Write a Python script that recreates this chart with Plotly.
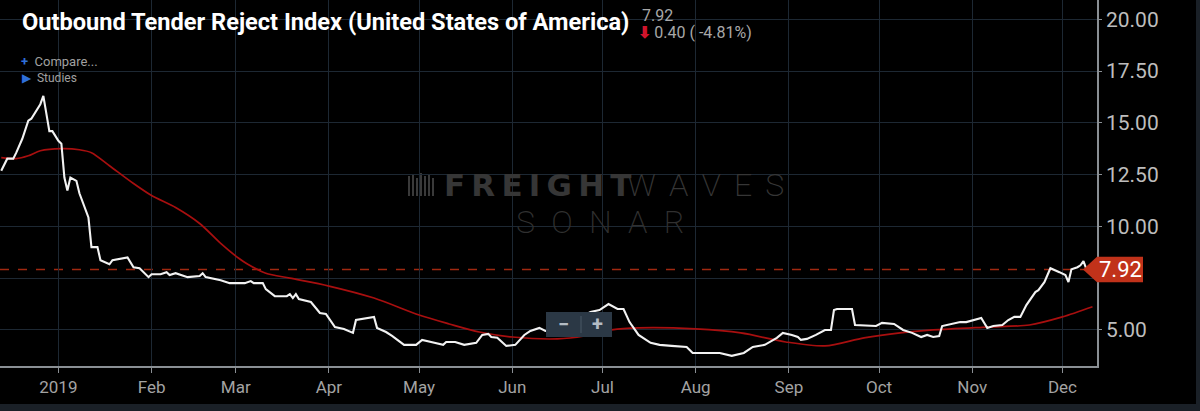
import plotly.graph_objects as go

# Outbound tender reject index, daily (%)
otri_dates = [
    "2018-12-13", "2018-12-15", "2018-12-17", "2018-12-18", "2018-12-20", "2018-12-22",
    "2018-12-23", "2018-12-25", "2018-12-26", "2018-12-27", "2018-12-28", "2018-12-29",
    "2018-12-30", "2019-01-01", "2019-01-02", "2019-01-03", "2019-01-04", "2019-01-05",
    "2019-01-07", "2019-01-08", "2019-01-11", "2019-01-12", "2019-01-14", "2019-01-15",
    "2019-01-18", "2019-01-19", "2019-01-24", "2019-01-26", "2019-01-28", "2019-01-31",
    "2019-02-01", "2019-02-04", "2019-02-06", "2019-02-07", "2019-02-09", "2019-02-13",
    "2019-02-17", "2019-02-18", "2019-02-19", "2019-02-24", "2019-02-27", "2019-03-04",
    "2019-03-06", "2019-03-07", "2019-03-10", "2019-03-11", "2019-03-14", "2019-03-18",
    "2019-03-19", "2019-03-20", "2019-03-21", "2019-03-22", "2019-03-26", "2019-03-28",
    "2019-03-29", "2019-03-31", "2019-04-03", "2019-04-06", "2019-04-09", "2019-04-10",
    "2019-04-16", "2019-04-17", "2019-04-20", "2019-04-22", "2019-04-26", "2019-04-30",
    "2019-05-02", "2019-05-05", "2019-05-09", "2019-05-10", "2019-05-13", "2019-05-16",
    "2019-05-20", "2019-05-22", "2019-05-24", "2019-05-25", "2019-05-27", "2019-05-30",
    "2019-06-02", "2019-06-05", "2019-06-07", "2019-06-10", "2019-06-12", "2019-06-16",
    "2019-06-21", "2019-06-25", "2019-06-27", "2019-06-30", "2019-07-03", "2019-07-06",
    "2019-07-08", "2019-07-10", "2019-07-13", "2019-07-17", "2019-07-20", "2019-07-24",
    "2019-07-29", "2019-07-31", "2019-08-04", "2019-08-09", "2019-08-13", "2019-08-17",
    "2019-08-20", "2019-08-24", "2019-08-28", "2019-08-30", "2019-09-02", "2019-09-04",
    "2019-09-05", "2019-09-07", "2019-09-10", "2019-09-13", "2019-09-15", "2019-09-16",
    "2019-09-17", "2019-09-22", "2019-09-23", "2019-09-30", "2019-10-02", "2019-10-06",
    "2019-10-09", "2019-10-12", "2019-10-15", "2019-10-17", "2019-10-19", "2019-10-21",
    "2019-10-22", "2019-10-25", "2019-10-28", "2019-10-30", "2019-11-02", "2019-11-04",
    "2019-11-05", "2019-11-06", "2019-11-08", "2019-11-11", "2019-11-13", "2019-11-15",
    "2019-11-17", "2019-11-19", "2019-11-22", "2019-11-23", "2019-11-25", "2019-11-27",
    "2019-11-30", "2019-12-02", "2019-12-03", "2019-12-04", "2019-12-06", "2019-12-07",
    "2019-12-08", "2019-12-09",
]
otri_values = [
    12.69, 13.27, 13.27, 13.56, 14.23, 15.10,
    15.20, 15.67, 15.90, 16.30, 15.43, 14.60,
    14.60, 14.13, 13.99, 12.36, 11.73, 12.36,
    12.20, 11.60, 10.43, 9.00, 9.00, 8.37,
    8.17, 8.37, 8.50, 8.03, 7.98, 7.55,
    7.69, 7.69, 7.79, 7.65, 7.74, 7.55,
    7.60, 7.74, 7.55, 7.40, 7.26, 7.26,
    7.36, 7.26, 7.26, 6.97, 6.63, 6.63,
    6.73, 6.54, 6.73, 6.49, 6.35, 5.96,
    5.82, 5.77, 5.14, 5.05, 4.86, 5.48,
    5.63, 5.10, 4.90, 4.71, 4.28, 4.28,
    4.52, 4.42, 4.28, 4.42, 4.42, 4.28,
    4.38, 4.76, 4.81, 4.66, 4.62, 4.23,
    4.28, 4.76, 4.95, 5.10, 4.95, 5.05,
    5.25, 5.70, 5.87, 5.96, 6.25, 6.01,
    6.01, 5.38, 4.76, 4.38, 4.28, 4.23,
    4.18, 3.89, 3.89, 3.89, 3.75, 3.89,
    4.18, 4.28, 4.62, 4.86, 4.76, 4.66,
    4.52, 4.57, 4.76, 5.00, 5.00, 5.96,
    6.01, 6.01, 5.24, 5.19, 5.34, 5.29,
    5.00, 4.86, 4.66, 4.76, 4.66, 4.71,
    5.19, 5.29, 5.38, 5.38, 5.48, 5.58,
    5.34, 5.10, 5.19, 5.24, 5.48, 5.63,
    5.63, 6.20, 6.83, 6.92, 7.31, 7.98,
    7.79, 7.65, 7.31, 7.93, 8.03, 8.12,
    8.32, 7.92,
]

# moving average study (red line)
ma_dates = [
    "2018-12-13", "2018-12-18", "2018-12-22", "2018-12-26", "2019-01-02", "2019-01-08",
    "2019-01-12", "2019-01-18", "2019-01-26", "2019-02-01", "2019-02-09", "2019-02-17",
    "2019-02-24", "2019-03-02", "2019-03-05", "2019-03-11", "2019-03-19", "2019-04-01",
    "2019-04-16", "2019-05-01", "2019-05-11", "2019-05-21", "2019-06-01", "2019-06-16",
    "2019-06-25", "2019-07-04", "2019-07-13", "2019-08-01", "2019-08-16", "2019-08-31",
    "2019-09-13", "2019-09-26", "2019-10-08", "2019-10-19", "2019-11-06", "2019-11-20",
    "2019-12-01", "2019-12-11",
]
ma_values = [
    13.32, 13.27, 13.41, 13.65, 13.75, 13.70,
    13.56, 12.93, 12.07, 11.49, 10.91, 10.14,
    9.18, 8.46, 8.17, 7.74, 7.50, 7.12,
    6.54, 5.72, 5.29, 4.90, 4.66, 4.57,
    4.71, 5.00, 5.10, 5.05, 4.86, 4.42,
    4.23, 4.62, 4.86, 5.00, 5.14, 5.24,
    5.63, 6.12,
]

month_ticks = ["2019-01-01", "2019-02-01", "2019-03-01", "2019-04-01", "2019-05-01", "2019-06-01",
               "2019-07-01", "2019-08-01", "2019-09-01", "2019-10-01", "2019-11-01", "2019-12-01"]
month_labels = ["2019", "Feb", "Mar", "Apr", "May", "Jun", "Jul", "Aug", "Sep", "Oct", "Nov", "Dec"]
y_ticks = [5, 7.5, 10, 12.5, 15, 17.5, 20]
y_labels = ["5.00", "", "10.00", "12.50", "15.00", "17.50", "20.00"]

title = "Outbound Tender Reject Index (United States of America)"
last_value = otri_values[-1]
change = -0.40
change_pct = -4.81

W, H = 1200, 411
ML, MR, MT, MB = 0, 103, 0, 45
PW, PH = W - ML - MR, H - MT - MB


def px(x):
    return (x - ML) / PW


def py(y):
    return (H - MB - y) / PH


fig = go.Figure()
fig.add_trace(go.Scatter(x=ma_dates, y=ma_values, mode="lines",
                         line=dict(color="#a80f0f", width=1.7, shape="spline", smoothing=0.8),
                         hoverinfo="skip"))
fig.add_trace(go.Scatter(x=otri_dates, y=otri_values, mode="lines",
                         line=dict(color="#f2f2f2", width=2.1), hoverinfo="skip"))

grid = "#1d2833"
axis_col = "#8a8f94"
fig.update_xaxes(range=["2018-12-12 14:00", "2019-12-12 12:00"], tickvals=month_ticks, ticktext=month_labels,
                 showgrid=True, gridcolor=grid, gridwidth=1, showline=True, linecolor=axis_col, linewidth=1.5,
                 ticks="outside", ticklen=5, tickcolor=axis_col, zeroline=False,
                 tickfont=dict(family="Roboto", size=17, color="#a3a3a3"))
fig.update_yaxes(range=[3.26, 20.93], side="right", tickvals=y_ticks, ticktext=y_labels,
                 showgrid=True, gridcolor=grid, gridwidth=1, showline=True, linecolor=axis_col, linewidth=1.5,
                 ticks="outside", ticklen=3, tickcolor=axis_col, zeroline=False,
                 tickfont=dict(family="Roboto", size=21, color="#bdbdbd"))

shapes = []
# last value dashed guide
shapes.append(dict(type="line", xref="paper", yref="y", x0=0, x1=1, y0=last_value, y1=last_value,
                   line=dict(color="#a02810", width=1.5, dash="dash"), layer="below"))
# last value price tag
h = 0.62
shapes.append(dict(type="path", xref="paper", yref="y", layer="above",
                   path=f"M {px(1083)},{last_value} L {px(1097)},{last_value + h} L {px(1143)},{last_value + h} "
                        f"L {px(1143)},{last_value - h} L {px(1097)},{last_value - h} Z",
                   fillcolor="#c1321a", line=dict(width=0)))
# zoom control box
shapes.append(dict(type="rect", xref="paper", yref="paper", layer="above",
                   x0=px(546), x1=px(612), y0=py(337), y1=py(312),
                   fillcolor="#2b3845", line=dict(width=0)))
shapes.append(dict(type="line", xref="paper", yref="paper", layer="above",
                   x0=px(581), x1=px(581), y0=py(333), y1=py(316),
                   line=dict(color="#4b5866", width=1)))
# watermark logo bars
for bx, top, bot in [(409, 176, 196), (413, 174, 196), (417, 178, 196), (421, 173, 196),
                     (425, 176, 196), (429, 174, 196), (433, 178, 196)]:
    shapes.append(dict(type="line", xref="paper", yref="paper", layer="below",
                       x0=px(bx), x1=px(bx), y0=py(bot), y1=py(top),
                       line=dict(color="#3a3a3a", width=2)))
# frame strips
shapes.append(dict(type="rect", xref="paper", yref="paper", x0=px(0), x1=px(W), y0=py(H), y1=py(404),
                   fillcolor="#1a2027", line=dict(width=0)))
shapes.append(dict(type="rect", xref="paper", yref="paper", x0=px(1196), x1=px(W), y0=py(H), y1=py(0),
                   fillcolor="#1a2027", line=dict(width=0)))

ts = "\u2009"
ann = []
ann.append(dict(text=f"<b>{title}</b>", x=px(20), y=py(22), xanchor="left", yanchor="middle",
                font=dict(family="Roboto", size=23.6, color="#ffffff")))
ann.append(dict(text=f"{last_value:.2f}", x=px(640), y=py(15), xanchor="left", yanchor="middle",
                font=dict(family="Roboto", size=16, color="#a8a8a8")))
ann.append(dict(text=f"<span style='color:#d0142c'><b>⬇</b></span>{ts}{abs(change):.2f} ( {change_pct:.2f}%)",
                x=px(636), y=py(33), xanchor="left", yanchor="middle",
                font=dict(family="Roboto", size=16, color="#a8a8a8")))
ann.append(dict(text="<span style='color:#2f6fd8'><b>+</b></span>  Compare...", x=px(19), y=py(62),
                xanchor="left", yanchor="middle", font=dict(family="Roboto", size=13, color="#a0a0a0")))
ann.append(dict(text="<span style='color:#2f6fd8'>▶</span>  Studies", x=px(20), y=py(78),
                xanchor="left", yanchor="middle", font=dict(family="Roboto", size=12, color="#a0a0a0")))
ann.append(dict(text=f"{last_value:.2f}", x=px(1120), y=last_value, yref="y", xanchor="center", yanchor="middle",
                font=dict(family="Roboto", size=22, color="#ffffff")))
ann.append(dict(text="<b>−</b>", x=px(563), y=py(324), xanchor="center", yanchor="middle",
                font=dict(family="Roboto", size=20, color="#b4bcc4")))
ann.append(dict(text="<b>+</b>", x=px(597), y=py(324), xanchor="center", yanchor="middle",
                font=dict(family="Roboto", size=20, color="#b4bcc4")))
# watermark
ann.append(dict(text="<b>" + ts.join("FREIGHT") + "</b>", x=px(442), y=py(185), xanchor="left", yanchor="middle",
                font=dict(family="DejaVu Sans", size=31, color="#363636")))
ann.append(dict(text=(ts * 2).join("WAVES"), x=px(786), y=py(185), xanchor="right", yanchor="middle",
                font=dict(family="Roboto", size=32, color="#363636", weight=200)))
ann.append(dict(text=("\u2002").join("SONAR"), x=px(600), y=py(222), xanchor="center", yanchor="middle",
                font=dict(family="Roboto", size=32, color="#303030", weight=200)))
for a in ann:
    a.setdefault("xref", "paper")
    a.setdefault("yref", "paper")
    a["showarrow"] = False

fig.update_layout(width=W, height=H, margin=dict(l=ML, r=MR, t=MT, b=MB),
                  paper_bgcolor="#000000", plot_bgcolor="#000000", showlegend=False,
                  shapes=shapes, annotations=ann)

fig.write_html("out.html", config={"displayModeBar": False},
               post_script="document.body.style.margin='0';document.body.style.background='#000';")
